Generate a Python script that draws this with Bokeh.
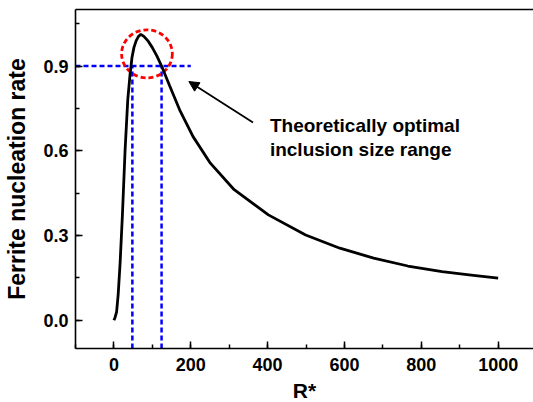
from bokeh.plotting import figure
from bokeh.models import (Range1d, SingleIntervalTicker, PrintfTickFormatter, LinearAxis,
                          FixedTicker, Arrow, NormalHead)
from bokeh.core.properties import value
from bokeh.embed import file_html
from bokeh.resources import INLINE

# ---- data ----
r_star = [0, 3, 7, 11, 16, 22, 29, 36, 42, 47, 52, 58, 64, 70, 78, 88, 100, 112, 124,
          145, 171, 206, 251, 313, 402, 499, 588, 676, 765, 854, 930, 1000]
nucleation_rate = [0.0, 0.01, 0.03, 0.09, 0.2, 0.37, 0.60, 0.78, 0.87, 0.93, 0.965, 0.99,
                   1.005, 1.012, 1.005, 0.99, 0.965, 0.935, 0.9, 0.83, 0.745, 0.65, 0.556,
                   0.462, 0.373, 0.302, 0.255, 0.22, 0.192, 0.172, 0.16, 0.149]
threshold = 0.9
range_low = 48
range_high = 124
annotation_lines = ["Theoretically optimal", "inclusion size range"]
x_title = "R*"
y_title = "Ferrite nucleation rate"

FONT = "Liberation Sans"

p = figure(frame_width=458, frame_height=339,
           x_range=Range1d(-100, 1092), y_range=Range1d(-0.1, 1.1),
           output_backend="svg", toolbar_location=None,
           min_border_left=75, min_border_right=0, min_border_top=9, min_border_bottom=0)
p.outline_line_color = None
p.xgrid.visible = False
p.ygrid.visible = False
p.background_fill_color = "white"
p.border_fill_color = "white"

for ax in (p.xaxis[0], p.yaxis[0]):
    ax.axis_line_width = 1.6
    ax.axis_line_color = "black"
    ax.major_tick_in = 7
    ax.major_tick_out = 0
    ax.minor_tick_in = 4
    ax.minor_tick_out = 0
    ax.major_tick_line_width = 1.5
    ax.minor_tick_line_width = 1.5
    ax.major_label_text_font = FONT
    ax.major_label_text_font_style = "bold"
    ax.major_label_text_font_size = "18px"
    ax.major_label_text_color = "black"
    ax.axis_label_text_font = FONT
    ax.axis_label_text_font_style = "bold"
    ax.axis_label_text_color = "black"

p.xaxis.ticker = SingleIntervalTicker(interval=200, num_minor_ticks=2)
p.yaxis.ticker = SingleIntervalTicker(interval=0.3, num_minor_ticks=2)
p.yaxis.formatter = PrintfTickFormatter(format="%.1f")
p.xaxis.axis_label = x_title
p.xaxis.axis_label_text_font_size = "21px"
p.xaxis.major_label_standoff = 9
p.xaxis.axis_label_standoff = 5
p.yaxis.axis_label = y_title
p.yaxis.axis_label_text_font_size = "23px"
p.yaxis.major_label_standoff = 7
p.yaxis.axis_label_standoff = 10

top = LinearAxis(ticker=FixedTicker(ticks=[]), major_tick_out=0, major_tick_in=0,
                 major_label_text_font_size="0px", axis_line_width=1.6,
                 major_label_standoff=0)
p.add_layout(top, "above")

# blue dashed guide lines
p.line([-100, 200], [threshold, threshold], line_color="#0000ff", line_width=2.5, line_dash="5 3")
p.line([range_low, range_low], [-0.1, threshold], line_color="#0000ff", line_width=2.5, line_dash="5 3")
p.line([range_high, range_high], [-0.1, threshold], line_color="#0000ff", line_width=2.5, line_dash="5 3")

# red dashed circle around the peak
p.ellipse(x=86, y=0.943, width=132, height=0.17, fill_color=None,
          line_color="#ff0000", line_width=2.8, line_dash="5 3")

# main curve
p.line(r_star, nucleation_rate, line_color="black", line_width=2.8)

# arrow and annotation
p.add_layout(Arrow(x_start=362, y_start=0.70, x_end=195, y_end=0.845,
                   line_width=1.8, line_color="black",
                   end=NormalHead(size=10, fill_color="black", line_color="black", line_width=1)))
p.text(x=[406, 406], y=[0.689, 0.603], text=annotation_lines,
       text_font=value(FONT), text_font_style="bold", text_font_size="19px",
       text_color="black", text_baseline="alphabetic", text_align="left")

open("out.html", "w").write(file_html(p, INLINE))
